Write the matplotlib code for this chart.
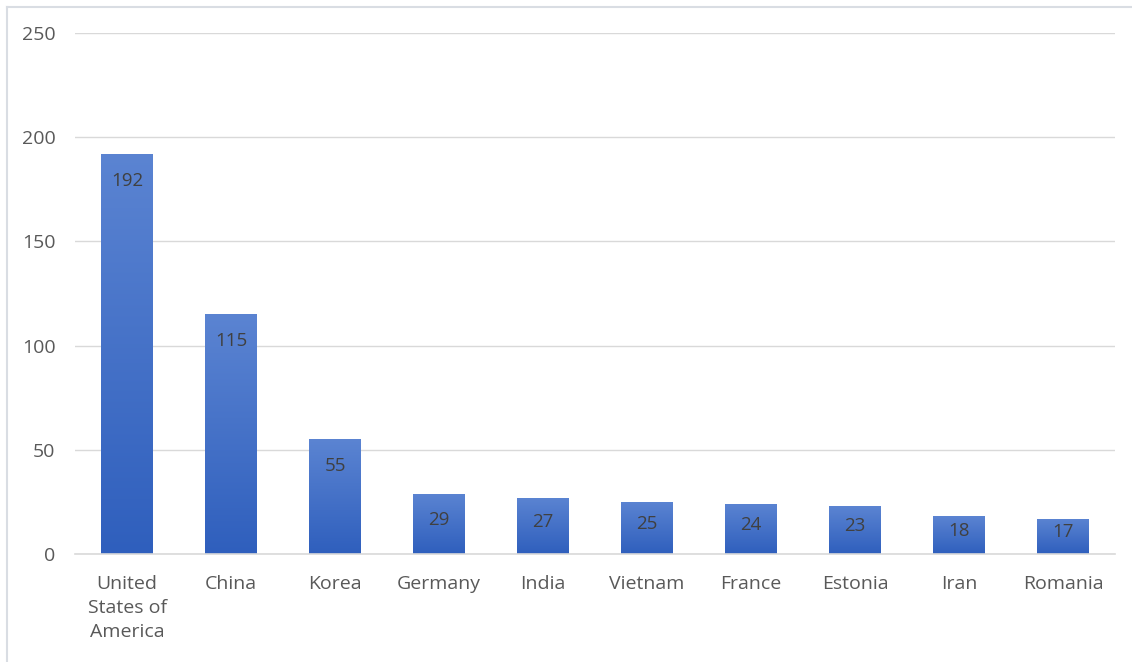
import numpy as np
import matplotlib.pyplot as plt
from matplotlib.colors import LinearSegmentedColormap
from matplotlib.lines import Line2D

countries = ['United\nStates of\nAmerica', 'China', 'Korea', 'Germany', 'India',
             'Vietnam', 'France', 'Estonia', 'Iran', 'Romania']
counts = [192, 115, 55, 29, 27, 25, 24, 23, 18, 17]
y_ticks = [0, 50, 100, 150, 200, 250]

plt.rcParams['font.family'] = ['Open Sans', 'DejaVu Sans']

fig = plt.figure(figsize=(11.32, 6.62), dpi=100)
ax = fig.add_axes([75 / 1132, 108 / 662, 1040 / 1132, 521 / 662])

grid_color = '#d9d9d9'
text_color = '#595959'

bars = ax.bar(range(len(countries)), counts, width=0.5, color='none', zorder=2)
ax.set_xlim(-0.5, len(countries) - 0.5)
ax.set_ylim(0, 250)

# pixels per data unit, used to keep labels inside short bars
px_per_unit = 521 / 250

# vertical gradient fill, lighter at the top of each bar
cmap = LinearSegmentedColormap.from_list('bar_grad', ['#2f5fbd', '#5b84d2'])
grad = np.linspace(0, 1, 256).reshape(-1, 1)
for bar, val in zip(bars, counts):
    x0 = bar.get_x()
    w = bar.get_width()
    im = ax.imshow(grad, cmap=cmap, origin='lower', aspect='auto',
                   extent=(x0, x0 + w, 0, val), zorder=2, interpolation='bilinear')
    im.set_clip_path(bar)
    off_px = min(27, val * px_per_unit / 2 - 4)
    ax.annotate(str(val), xy=(x0 + w / 2, val), xytext=(0, -off_px * 0.72),
                textcoords='offset points', ha='center', va='center',
                fontsize=13.5, color='#404040', zorder=3)

ax.set_xlim(-0.5, len(countries) - 0.5)
ax.set_ylim(0, 250)
ax.set_yticks(y_ticks)
ax.set_xticks(range(len(countries)))
ax.set_xticklabels(countries, linespacing=1.45)
ax.tick_params(axis='both', length=0, labelsize=14, colors=text_color)
ax.tick_params(axis='x', pad=15)
ax.tick_params(axis='y', pad=14)
ax.yaxis.grid(True, color=grid_color, lw=1)
ax.set_axisbelow(True)
for side in ['top', 'right', 'left']:
    ax.spines[side].set_visible(False)
ax.spines['bottom'].set_color(grid_color)
ax.spines['bottom'].set_linewidth(1.2)

# chart area frame edges
fig.add_artist(Line2D([6.5 / 1132, 1], [1 - 6.5 / 662] * 2, color='#d9dde3', lw=1.5))
fig.add_artist(Line2D([6.5 / 1132] * 2, [0, 1 - 6.5 / 662], color='#d9dde3', lw=1.5))

fig.savefig('out.png', dpi=100)
